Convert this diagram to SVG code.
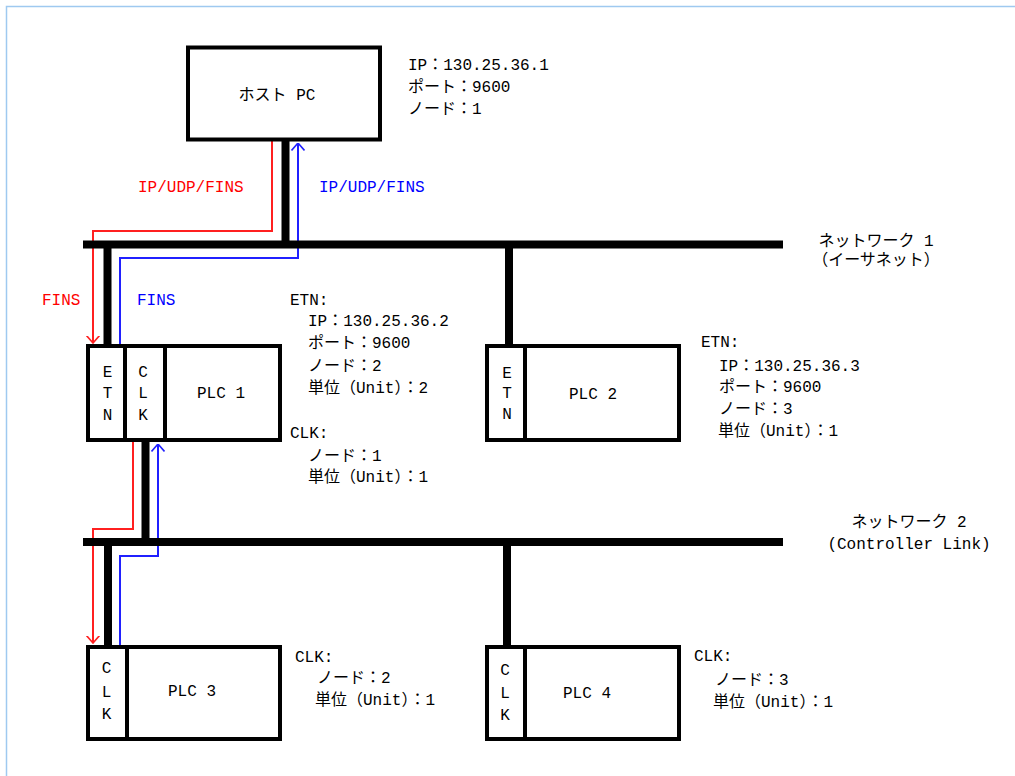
<svg xmlns="http://www.w3.org/2000/svg" width="1015" height="776" viewBox="0 0 1015 776">
<defs>
<style>
.box{fill:#fff;stroke:#000;stroke-width:4}
.div{stroke:#000;stroke-width:4}
.bus{stroke:#000;stroke-width:8;fill:none}
.stub{stroke:#000;stroke-width:8;fill:none}
.red{stroke:#ff2020;stroke-width:2;fill:none}
.blue{stroke:#2020ff;stroke-width:2;fill:none}
text{font-family:"Liberation Mono","Noto Sans CJK JP",monospace;font-size:16px;fill:#000}
.c{text-anchor:middle}
.tr{fill:#ff0000}
.tb{fill:#0000ff}
</style>
<marker id="ar" viewBox="0 0 8 14" refX="7.5" refY="7" markerWidth="8" markerHeight="14" markerUnits="userSpaceOnUse" orient="auto">
<path d="M0,0.5 L7.5,7 L0,13.5" fill="none" stroke="#ff2020" stroke-width="1.6"/>
</marker>
<marker id="ab" viewBox="0 0 8 14" refX="7.5" refY="7" markerWidth="8" markerHeight="14" markerUnits="userSpaceOnUse" orient="auto">
<path d="M0,0.5 L7.5,7 L0,13.5" fill="none" stroke="#2020ff" stroke-width="1.6"/>
</marker>
</defs>
<rect x="0" y="0" width="1015" height="776" fill="#fff"/>
<rect x="6.5" y="6.5" width="1200" height="1000" fill="none" stroke="#9fc9f0" stroke-width="1.5"/>

<g id="connectors">
<line class="stub" x1="285.5" y1="141" x2="285.5" y2="244"/>
<line class="stub" x1="107.5" y1="244" x2="107.5" y2="345"/>
<line class="stub" x1="509" y1="244" x2="509" y2="345"/>
<line class="stub" x1="145.5" y1="441" x2="145.5" y2="542"/>
<line class="stub" x1="108" y1="542" x2="108" y2="646"/>
<line class="stub" x1="507" y1="542" x2="507" y2="646"/>
<polyline class="red" points="272,141 272,231 93,231 93,343" marker-end="url(#ar)"/>
<polyline class="blue" points="120,344 120,258 298,258 298,143" marker-end="url(#ab)"/>
<polyline class="red" points="133,442 133,529 93,529 93,643" marker-end="url(#ar)"/>
<polyline class="blue" points="120,645 120,556 158,556 158,444" marker-end="url(#ab)"/>
</g>

<g id="network1">
<line class="bus" x1="83" y1="244.5" x2="783" y2="244.5"/>
<text class="c" x="876" y="246">ネットワーク 1</text>
<text class="c" x="876" y="265">（イーサネット）</text>
</g>
<g id="network2">
<line class="bus" x1="83" y1="542" x2="783" y2="542"/>
<text class="c" x="909" y="527">ネットワーク 2</text>
<text class="c" x="909" y="549">(Controller Link)</text>
</g>

<g id="host-pc">
<rect class="box" x="188" y="47.5" width="192" height="92"/>
<text class="c" x="277" y="100">ホスト PC</text>
<text x="408" y="70">IP：130.25.36.1</text>
<text x="408" y="92">ポート：9600</text>
<text x="408" y="114">ノード：1</text>
</g>

<g id="flow-labels">
<text class="tr" x="138" y="192">IP/UDP/FINS</text>
<text class="tb" x="319" y="192">IP/UDP/FINS</text>
<text class="tr" x="42" y="305">FINS</text>
<text class="tb" x="137" y="305">FINS</text>
</g>

<g id="plc1">
<rect class="box" x="88" y="346" width="192" height="94"/>
<line class="div" x1="125" y1="346" x2="125" y2="440"/>
<line class="div" x1="165" y1="346" x2="165" y2="440"/>
<text class="c" x="107.5" y="377">E</text>
<text class="c" x="107.5" y="398">T</text>
<text class="c" x="107.5" y="420">N</text>
<text class="c" x="143" y="377">C</text>
<text class="c" x="143" y="398">L</text>
<text class="c" x="143" y="420">K</text>
<text class="c" x="221" y="398">PLC 1</text>
<text x="290" y="305">ETN:</text>
<text x="308" y="326">IP：130.25.36.2</text>
<text x="308" y="348">ポート：9600</text>
<text x="308" y="371">ノード：2</text>
<text x="308" y="393">単位（Unit）：2</text>
<text x="290" y="438">CLK:</text>
<text x="308" y="461">ノード：1</text>
<text x="308" y="482">単位（Unit）：1</text>
</g>

<g id="plc2">
<rect class="box" x="487" y="346" width="192" height="94"/>
<line class="div" x1="525" y1="346" x2="525" y2="440"/>
<text class="c" x="507" y="378">E</text>
<text class="c" x="507" y="398">T</text>
<text class="c" x="507" y="419">N</text>
<text class="c" x="593" y="399">PLC 2</text>
<text x="701" y="347">ETN:</text>
<text x="719" y="371">IP：130.25.36.3</text>
<text x="719" y="392">ポート：9600</text>
<text x="719" y="414">ノード：3</text>
<text x="718" y="436">単位（Unit）：1</text>
</g>

<g id="plc3">
<rect class="box" x="88" y="647" width="192" height="92"/>
<line class="div" x1="127" y1="647" x2="127" y2="739"/>
<text class="c" x="106.5" y="673">C</text>
<text class="c" x="106.5" y="697">L</text>
<text class="c" x="106.5" y="719">K</text>
<text class="c" x="192" y="696">PLC 3</text>
<text x="295" y="662">CLK:</text>
<text x="317" y="683">ノード：2</text>
<text x="315" y="705">単位（Unit）：1</text>
</g>

<g id="plc4">
<rect class="box" x="487" y="647" width="192" height="92"/>
<line class="div" x1="525" y1="647" x2="525" y2="739"/>
<text class="c" x="505" y="675">C</text>
<text class="c" x="505" y="698">L</text>
<text class="c" x="505" y="720">K</text>
<text class="c" x="587" y="698">PLC 4</text>
<text x="694" y="661">CLK:</text>
<text x="715" y="685">ノード：3</text>
<text x="713" y="707">単位（Unit）：1</text>
</g>
</svg>
